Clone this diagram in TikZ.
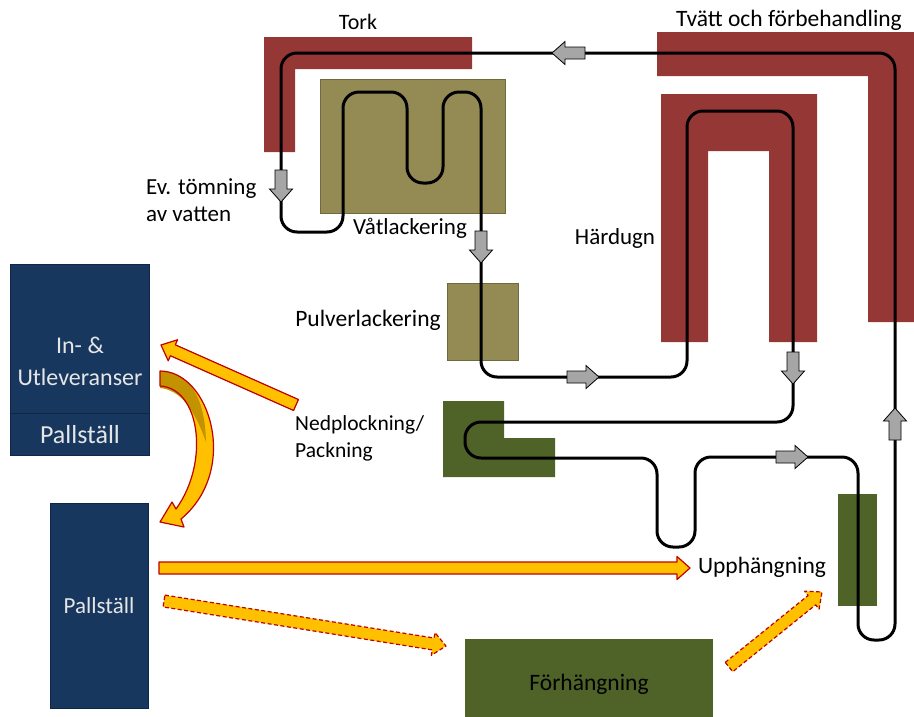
\documentclass[tikz,border=0pt]{standalone}
\usepackage{fontspec}
\setmainfont{Carlito}
\usetikzlibrary{calc}

\definecolor{oven}{HTML}{953735}
\definecolor{paint}{HTML}{948A54}
\definecolor{paintedge}{HTML}{6F6940}
\definecolor{greenzone}{HTML}{4F6228}
\definecolor{store}{HTML}{17375E}
\definecolor{storeedge}{HTML}{0F2745}
\definecolor{flowfill}{HTML}{FFC000}
\definecolor{flowedge}{HTML}{C00000}
\definecolor{flowshade}{HTML}{C39200}
\definecolor{markfill}{HTML}{A6A6A6}
\definecolor{storetext}{HTML}{E6E6E6}

% straight block arrow from #2 (tail) to #3 (tip)
\newcommand\blockarrow[3][]{%
  \draw[#1] let \p1=(#2), \p2=(#3), \n1={atan2(\y2-\y1,\x2-\x1)},
      \p3=($(\p2)+(\n1+180:13pt)$) in
    ($(\p1)+(\n1+90:6pt)$) -- ($(\p3)+(\n1+90:6pt)$) -- ($(\p3)+(\n1+90:11.5pt)$)
    -- (\p2) -- ($(\p3)+(\n1-90:11.5pt)$) -- ($(\p3)+(\n1-90:6pt)$)
    -- ($(\p1)+(\n1-90:6pt)$) -- cycle;}

\tikzset{
  box/.style={inner sep=0pt, outer sep=0pt, anchor=north west},
  bathbox/.style={box, fill=paint, draw=paintedge, line width=0.8pt},
  greenbox/.style={box, fill=greenzone},
  storebox/.style={box, fill=store, draw=storeedge, line width=0.8pt},
  zone/.style={fill=oven},
  conveyor/.style={line width=3pt, rounded corners=16pt, line join=round},
  marker/.style={fill=markfill, draw=black, line width=0.8pt},
  flow/.style={fill=flowfill, draw=flowedge, line width=1.2pt, line join=round},
  flowdash/.style={flow, dash pattern=on 4pt off 2.5pt},
  lbl/.style={inner sep=0pt, text=black, font=\fontsize{#1}{#1}\selectfont},
  lbl/.default=23,
  storelbl/.style={lbl=#1, text=storetext, align=center}
}

\begin{document}
\begin{tikzpicture}[x=1pt, y=-1pt]
\useasboundingbox (0,0) rectangle (914,716);

% ovens: dryer, washer / pretreatment, curing oven
\fill[zone] (264,37) -- (472,37) -- (472,69) -- (295,69) -- (295,152) -- (264,152) -- cycle;
\fill[zone] (657,32) -- (914,32) -- (914,322) -- (868,322) -- (868,76) -- (657,76) -- cycle;
\fill[zone] (661,342) -- (661,94) -- (817,94) -- (817,342) -- (769,342) -- (769,151)
  -- (708,151) -- (708,342) -- cycle;

% painting booths
\node[bathbox, minimum width=185, minimum height=134] (wet) at (320,79) {};
\node[bathbox, minimum width=71, minimum height=77] (powder) at (447,283) {};

% green stations
\fill[greenzone] (443,401) -- (504,401) -- (504,438) -- (555,438) -- (555,477) -- (443,477) -- cycle;
\node[greenbox, minimum width=39, minimum height=112] (hang) at (838,494) {};
\node[greenbox, minimum width=248, minimum height=80] (prehang) at (465,639) {};

% storage blocks
\node[storebox, minimum width=139, minimum height=149] (inout) at (10,264) {};
\node[storebox, minimum width=139, minimum height=42] (rackA) at (10,413) {};
\node[storebox, minimum width=98, minimum height=205] (rackB) at (50,503) {};

% conveyor loop
\draw[conveyor] (620,53) -- (281,53) -- (281,232) -- (343,232) -- (343,92) -- (407,92)
  -- (407,183) -- (443,183) -- (443,92) -- (481,92) -- (481,377) -- (687,377)
  -- (687,111) -- (793,111) -- (793,422) -- (465,422) -- (465,458) -- (657,458)
  -- (657,547) -- (695,547) -- (695,457) -- (858,457) -- (858,640) -- (895,640)
  -- (895,53) -- cycle;

% direction markers on the conveyor
\coordinate (m1a) at (895,440); \coordinate (m1b) at (895,408);
\coordinate (m2a) at (585,53);  \coordinate (m2b) at (552,53);
\coordinate (m3a) at (281,170); \coordinate (m3b) at (281,202);
\coordinate (m4a) at (481,231); \coordinate (m4b) at (481,263);
\coordinate (m5a) at (567,377); \coordinate (m5b) at (599,377);
\coordinate (m6a) at (793,352); \coordinate (m6b) at (793,384);
\coordinate (m7a) at (776,457); \coordinate (m7b) at (808,457);
\foreach \m in {1,...,7} {\blockarrow[marker]{m\m a}{m\m b}}

% labels
\node[lbl=22] (tork) at (358,22) {Tork};
\node[lbl=23.5] (wash) at (789,20) {Tvätt och förbehandling};
\node[lbl, anchor=west, align=left, font=\fontsize{23}{27}\selectfont] (drain) at (146,200)
  {Ev. tömning\\av vatten};
\node[lbl] (wetlbl) at (410,228) {Våtlackering};
\node[lbl] (cure) at (615,238) {Härdugn};
\node[lbl=23.5] (powderlbl) at (368,320) {Pulverlackering};
\node[lbl, anchor=west, align=left, font=\fontsize{21.5}{27}\selectfont] (pack) at (295,438)
  {Nedplockning/\\Packning};
\node[lbl=23.5] (hanglbl) at (762,567) {Upphängning};
\node[lbl=23.5] (prehanglbl) at (589,684) {Förhängning};
\node[storelbl=24, font=\fontsize{24}{32}\selectfont] at (80,361) {In- \&\\Utleveranser};
\node[storelbl=26] at (80,435) {Pallställ};
\node[storelbl=23] at (99,606) {Pallställ};

% material flows
\coordinate (f1a) at (296,405); \coordinate (f1b) at (161,345);
\coordinate (f2a) at (159,568); \coordinate (f2b) at (690,568);
\coordinate (f3a) at (164,601); \coordinate (f3b) at (446,646);
\coordinate (f4a) at (729,667); \coordinate (f4b) at (822,592);
\blockarrow[flow]{f1a}{f1b}
\blockarrow[flow]{f2a}{f2b}
\blockarrow[flowdash]{f3a}{f3b}
\blockarrow[flowdash]{f4a}{f4b}

% curved flow from delivery down to the pallet rack
\fill[flowfill] (160,371) .. controls (210,371) and (240,470) .. (181,519)
  -- (184,527) -- (160,522) -- (172,502) -- (176,509)
  .. controls (210,462) and (200,388) .. (160,386) -- cycle;
\fill[flowshade] (160,371) .. controls (190,372) and (205,398) .. (206,442)
  .. controls (194,408) and (180,390) .. (160,388) -- cycle;
\draw[flow, fill=none] (160,371) .. controls (210,371) and (240,470) .. (181,519)
  -- (184,527) -- (160,522) -- (172,502) -- (176,509)
  .. controls (210,462) and (200,388) .. (160,386) -- cycle;
\end{tikzpicture}
\end{document}
